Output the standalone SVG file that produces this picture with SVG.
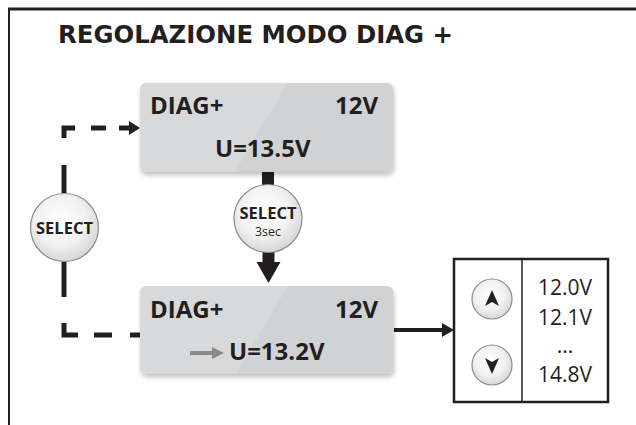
<svg xmlns="http://www.w3.org/2000/svg" width="636" height="425" viewBox="0 0 636 425">
<style>
.title{font-family:"DejaVu Sans",Verdana,sans-serif;font-weight:bold;font-size:24.5px;fill:#231f20}
.lcd{font-family:"Open Sans","Liberation Sans",sans-serif;font-weight:bold;font-size:24px;fill:#231f20}
.btn{font-family:"Open Sans","Liberation Sans",sans-serif;font-weight:bold;font-size:16.5px;fill:#231f20}
.small{font-family:"Open Sans","Liberation Sans",sans-serif;font-size:12.5px;fill:#231f20}
.val{font-family:"Open Sans","Liberation Sans",sans-serif;font-size:21px;fill:#231f20}
.dash{stroke:#231f20;stroke-width:5;fill:none}
.box{fill:#d1d2d3}
.shine{fill:#ffffff;opacity:0.16}
.circ{fill:url(#rg);stroke:#8c8c8c;stroke-width:1.2}
</style>
<defs>
<radialGradient id="rg" cx="0.45" cy="0.4" r="0.6">
<stop offset="0" stop-color="#ffffff"/>
<stop offset="0.6" stop-color="#f2f2f2"/>
<stop offset="1" stop-color="#d6d6d6"/>
</radialGradient>
<filter id="sh" x="-10%" y="-10%" width="125%" height="135%">
<feDropShadow dx="1" dy="3" stdDeviation="2.5" flood-color="#000" flood-opacity="0.25"/>
</filter>
</defs>

<g id="frame">
<line x1="8" y1="9" x2="636" y2="9" stroke="#231f20" stroke-width="3"/>
<line x1="9" y1="8" x2="9" y2="425" stroke="#231f20" stroke-width="2"/>
</g>

<g id="title">
<text class="title" x="58" y="43" textLength="395" lengthAdjust="spacingAndGlyphs">REGOLAZIONE MODO DIAG +</text>
</g>

<g id="connectors">
<path class="dash" d="M64,193 V165"/>
<path class="dash" d="M64,138 V128 H75"/>
<path class="dash" d="M91,128 H106"/>
<path class="dash" d="M119,128 H131"/>
<polygon points="129,121 140,128 129,135" fill="#231f20"/>
<path class="dash" d="M64,262 V297"/>
<path class="dash" d="M64,323 V335 H78"/>
<path class="dash" d="M94,335 H112"/>
<path class="dash" d="M130,335 H141"/>
<rect x="262" y="171" width="12" height="16" fill="#231f20"/>
<rect x="262.5" y="250" width="12" height="13" fill="#231f20"/>
<polygon points="256.5,262 280.5,262 268.5,283" fill="#231f20"/>
<line x1="394" y1="330" x2="444" y2="330" stroke="#231f20" stroke-width="4"/>
<polygon points="442,323 454,330 442,337" fill="#231f20"/>
</g>

<g id="box1">
<rect class="box" x="140" y="83" width="253" height="89" rx="6" filter="url(#sh)"/>
<path class="shine" d="M146,83 H288 L235,172 H146 Q140,172 140,166 V89 Q140,83 146,83 Z"/>
<text class="lcd" x="150" y="114">DIAG+</text>
<text class="lcd" x="378" y="114" text-anchor="end">12V</text>
<text class="lcd" x="215" y="157">U=13.5V</text>
</g>

<g id="box2">
<rect class="box" x="140" y="286" width="253" height="88" rx="6" filter="url(#sh)"/>
<path class="shine" d="M146,286 H288 L236,374 H146 Q140,374 140,368 V292 Q140,286 146,286 Z"/>
<text class="lcd" x="150" y="318">DIAG+</text>
<text class="lcd" x="378" y="318" text-anchor="end">12V</text>
<line x1="190" y1="353" x2="214" y2="353" stroke="#8a8a8a" stroke-width="4"/>
<polygon points="212,347 224,353 212,359" fill="#8a8a8a"/>
<text class="lcd" x="229" y="360">U=13.2V</text>
</g>

<g id="select-left">
<circle class="circ" cx="64.5" cy="227.5" r="34"/>
<text class="btn" x="64.5" y="234" text-anchor="middle">SELECT</text>
</g>

<g id="select-3sec">
<circle class="circ" cx="268" cy="218.5" r="34"/>
<text class="btn" x="268" y="219" text-anchor="middle">SELECT</text>
<text class="small" x="268" y="236" text-anchor="middle">3sec</text>
</g>

<g id="range-box">
<rect x="454" y="259" width="154" height="143" fill="#fff" stroke="#231f20" stroke-width="2.5"/>
<line x1="522" y1="259" x2="522" y2="402" stroke="#231f20" stroke-width="1.5"/>
<circle class="circ" cx="492" cy="299" r="20"/>
<polygon points="492,290 485,306 492,302 499,306" fill="#231f20"/>
<circle class="circ" cx="492" cy="365" r="20"/>
<polygon points="492,374 485,358 492,362 499,358" fill="#231f20"/>
<text class="val" x="565" y="295" text-anchor="middle">12.0V</text>
<text class="val" x="565" y="325" text-anchor="middle">12.1V</text>
<text class="val" x="565" y="353" text-anchor="middle">...</text>
<text class="val" x="565" y="382" text-anchor="middle">14.8V</text>
</g>
</svg>
